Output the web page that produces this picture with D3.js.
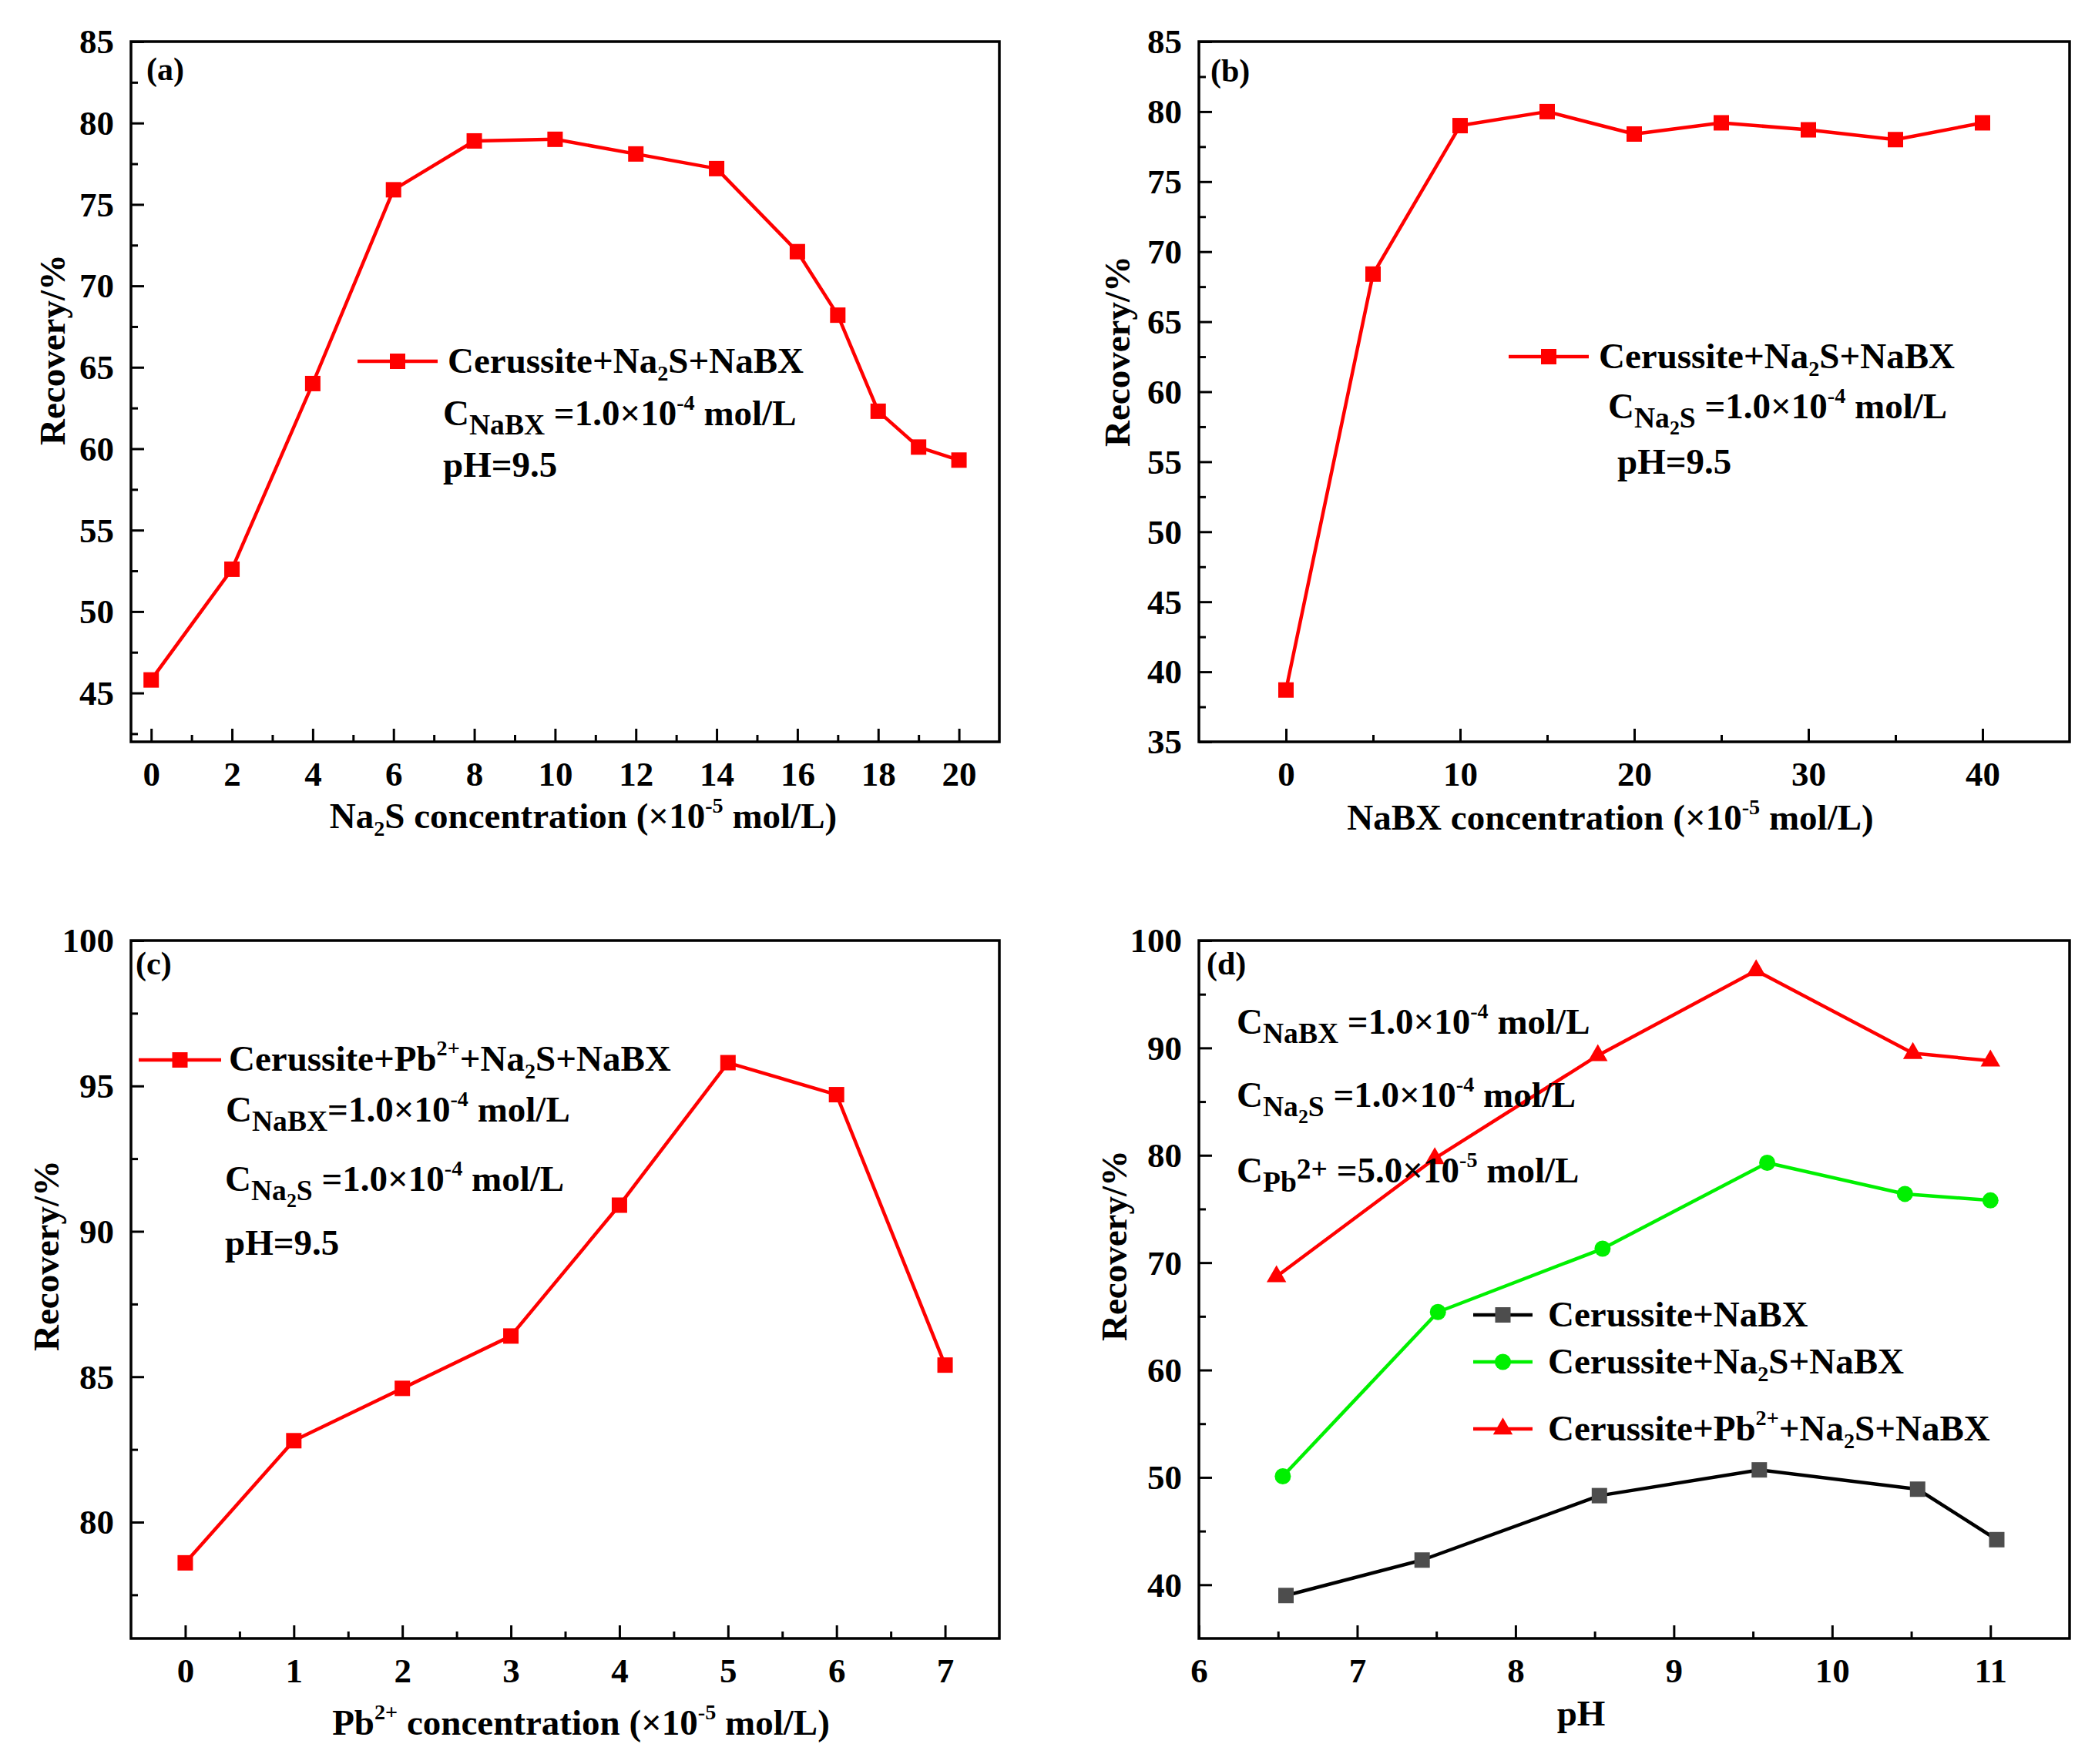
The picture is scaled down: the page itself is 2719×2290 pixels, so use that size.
<!DOCTYPE html>
<html>
<head>
<meta charset="utf-8">
<script src="https://cdn.jsdelivr.net/npm/d3@7"></script>
<style>
  body { margin: 0; background: #fff; }
  text { font-family: "Liberation Serif", "Times New Roman", serif; font-weight: bold; fill: #000; white-space: pre; }
</style>
</head>
<body>
<div id="fig"></div>
<script>
// ---------- data ----------
// (a) Na2S dosage
const a_x = [0, 2, 4, 6, 8, 10, 12, 14, 16, 17, 18, 19, 20];
const a_y = [45.8, 52.6, 64.0, 75.9, 78.9, 79.0, 78.1, 77.2, 72.1, 68.2, 62.3, 60.1, 59.3];
// (b) NaBX dosage
const b_x = [0, 5, 10, 15, 20, 25, 30, 35, 40];
const b_y = [38.7, 68.4, 79.0, 80.0, 78.4, 79.2, 78.7, 78.0, 79.2];
// (c) Pb2+ dosage
const c_x = [0, 1, 2, 3, 4, 5, 6, 7];
const c_y = [78.6, 82.8, 84.6, 86.4, 90.9, 95.8, 94.7, 85.4];
// (d) pH, three systems
const d_x_bx = [6.55, 7.41, 8.53, 9.54, 10.54, 11.04];
const d_y_bx = [39.0, 42.3, 48.3, 50.7, 48.9, 44.2];
const d_x_s = [6.53, 7.51, 8.55, 9.59, 10.46, 11.0];
const d_y_s = [50.1, 65.4, 71.3, 79.3, 76.4, 75.8];
const d_x_pb = [6.49, 7.49, 8.52, 9.52, 10.51, 11.0];
const d_y_pb = [68.7, 79.7, 89.3, 97.2, 89.5, 88.8];

// tick values
const a_xt = [0, 2, 4, 6, 8, 10, 12, 14, 16, 18, 20];
const a_xm = [1, 3, 5, 7, 9, 11, 13, 15, 17, 19];
const a_yt = [45, 50, 55, 60, 65, 70, 75, 80, 85];
const a_ym = [42.5, 47.5, 52.5, 57.5, 62.5, 67.5, 72.5, 77.5, 82.5];
const b_xt = [0, 10, 20, 30, 40];
const b_xm = [5, 15, 25, 35];
const b_yt = [35, 40, 45, 50, 55, 60, 65, 70, 75, 80, 85];
const b_ym = [37.5, 42.5, 47.5, 52.5, 57.5, 62.5, 67.5, 72.5, 77.5, 82.5];
const c_xt = [0, 1, 2, 3, 4, 5, 6, 7];
const c_xm = [0.5, 1.5, 2.5, 3.5, 4.5, 5.5, 6.5];
const c_yt = [80, 85, 90, 95, 100];
const c_ym = [77.5, 82.5, 87.5, 92.5, 97.5];
const d_xt = [6, 7, 8, 9, 10, 11];
const d_xm = [6.5, 7.5, 8.5, 9.5, 10.5];
const d_yt = [40, 50, 60, 70, 80, 90, 100];
const d_ym = [45, 55, 65, 75, 85, 95];

const RED = "#ff0000", GREEN = "#00f000", GREY = "#4d4d4d";

const svg = d3.select("#fig").append("svg")
  .attr("width", 2719).attr("height", 2290)
  .style("display", "block");

// text with sub/superscripts: parts = [[string, kind]]
function rich(g, x, y, parts, fs, anchor) {
  const t = g.append("text").attr("x", x).attr("y", y).style("font-size", fs + "px");
  if (anchor) t.attr("text-anchor", anchor);
  let cur = 0;
  parts.forEach(p => {
    const k = p[1] || "n";
    let off = 0, sz = fs;
    if (k === "b") { off = 0.26 * fs; sz = 0.8 * fs; }       // big subscript (NaBX)
    if (k === "s") { off = 0.22 * fs; sz = 0.6 * fs; }       // small subscript (2 of Na2S)
    if (k === "bs") { off = 0.44 * fs; sz = 0.55 * fs; }     // subscript inside subscript
    if (k === "p") { off = -0.42 * fs; sz = 0.6 * fs; }      // superscript
    if (k === "q") { off = -0.1 * fs; sz = 0.8 * fs; }       // 2+ after C_Pb
    t.append("tspan").attr("dy", (off - cur).toFixed(1)).style("font-size", sz.toFixed(1) + "px").text(p[0]);
    cur = off;
  });
  return t;
}

function panel(box, xd, yd, xt, xm, yt, ym) {
  const g = svg.append("g");
  const x = d3.scaleLinear().domain(xd).range([box.x0, box.x1]);
  const y = d3.scaleLinear().domain(yd).range([box.y1, box.y0]);
  const fmt = d3.format("~g");

  const xa = g.append("g").attr("transform", `translate(0,${box.y1})`)
    .call(d3.axisBottom(x).tickValues(xt).tickFormat(fmt).tickSizeInner(-17).tickSizeOuter(0).tickPadding(0));
  xa.selectAll("text").attr("y", 57).attr("dy", null).style("font-size", "45px");
  g.append("g").attr("transform", `translate(0,${box.y1})`)
    .call(d3.axisBottom(x).tickValues(xm).tickSizeInner(-9).tickSizeOuter(0).tickFormat(""));

  const ya = g.append("g").attr("transform", `translate(${box.x0},0)`)
    .call(d3.axisLeft(y).tickValues(yt).tickFormat(fmt).tickSizeInner(-17).tickSizeOuter(0).tickPadding(22));
  ya.selectAll("text").attr("dy", "0.33em").style("font-size", "45px");
  g.append("g").attr("transform", `translate(${box.x0},0)`)
    .call(d3.axisLeft(y).tickValues(ym).tickSizeInner(-9).tickSizeOuter(0).tickFormat(""));

  g.selectAll(".domain").remove();
  g.selectAll(".tick line").attr("stroke", "#000").attr("stroke-width", 3);
  g.selectAll(".tick text").attr("fill", "#000").attr("font-family", null);

  g.append("rect")
    .attr("x", box.x0).attr("y", box.y0)
    .attr("width", box.x1 - box.x0).attr("height", box.y1 - box.y0)
    .attr("fill", "none").attr("stroke", "#000").attr("stroke-width", 3.5);
  return { g, x, y };
}

function marker(g, type, color, cx, cy) {
  if (type === "square") {
    g.append("rect").attr("x", cx - 10).attr("y", cy - 10).attr("width", 20).attr("height", 20).attr("fill", color);
  } else if (type === "circle") {
    g.append("circle").attr("cx", cx).attr("cy", cy).attr("r", 10.5).attr("fill", color);
  } else {
    g.append("path").attr("d", d3.symbol(d3.symbolTriangle, 280)())
      .attr("transform", `translate(${cx},${cy})`).attr("fill", color);
  }
}

function series(p, xs, ys, lineColor, markColor, type) {
  const pts = xs.map((v, i) => [v, ys[i]]);
  p.g.append("path").datum(pts)
    .attr("d", d3.line().x(d => p.x(d[0])).y(d => p.y(d[1])))
    .attr("fill", "none").attr("stroke", lineColor).attr("stroke-width", 4.5)
    .attr("stroke-linejoin", "round");
  pts.forEach(d => marker(p.g, type, markColor, p.x(d[0]), p.y(d[1])));
}

function legendItem(g, x0, x1, yy, lineColor, markColor, type) {
  g.append("line").attr("x1", x0).attr("x2", x1).attr("y1", yy).attr("y2", yy)
    .attr("stroke", lineColor).attr("stroke-width", 4.5);
  marker(g, type, markColor, (x0 + x1) / 2, yy);
}

function yTitle(g, cx, cy) {
  g.append("text").attr("transform", `translate(${cx + 15},${cy}) rotate(-90)`)
    .attr("text-anchor", "middle").style("font-size", "47px").text("Recovery/%");
}

const FS = 47;

// ---------- (a) ----------
if (1) {
  const p = panel({ x0: 170, x1: 1297, y0: 54, y1: 963 }, [-0.5, 21], [42, 85], a_xt, a_xm, a_yt, a_ym);
  series(p, a_x, a_y, RED, RED, "square");
  p.g.append("text").attr("x", 190).attr("y", 104).style("font-size", "42px").text("(a)");
  legendItem(p.g, 464, 568, 469, RED, RED, "square");
  rich(p.g, 581, 484, [["Cerussite+Na"], ["2", "s"], ["S+NaBX"]], FS);
  rich(p.g, 575, 552, [["C"], ["NaBX", "b"], [" =1.0×10"], ["-4", "p"], [" mol/L"]], FS);
  rich(p.g, 575, 619, [["pH=9.5"]], FS);
  rich(p.g, 757, 1075, [["Na"], ["2", "s"], ["S concentration (×10"], ["-5", "p"], [" mol/L)"]], FS, "middle");
  yTitle(p.g, 69, 454);
}

// ---------- (b) ----------
if (1) {
  const p = panel({ x0: 1556, x1: 2686, y0: 54, y1: 963 }, [-5, 45], [35, 85], b_xt, b_xm, b_yt, b_ym);
  series(p, b_x, b_y, RED, RED, "square");
  p.g.append("text").attr("x", 1571).attr("y", 106).style("font-size", "42px").text("(b)");
  legendItem(p.g, 1958, 2062, 463, RED, RED, "square");
  rich(p.g, 2075, 478, [["Cerussite+Na"], ["2", "s"], ["S+NaBX"]], FS);
  rich(p.g, 2087, 543, [["C"], ["Na", "b"], ["2", "bs"], ["S", "b"], [" =1.0×10"], ["-4", "p"], [" mol/L"]], FS);
  rich(p.g, 2099, 615, [["pH=9.5"]], FS);
  rich(p.g, 2090, 1077, [["NaBX concentration (×10"], ["-5", "p"], [" mol/L)"]], FS, "middle");
  yTitle(p.g, 1451, 456);
}

// ---------- (c) ----------
if (1) {
  const p = panel({ x0: 170, x1: 1297, y0: 1221, y1: 2127 }, [-0.5, 7.5], [76, 100], c_xt, c_xm, c_yt, c_ym);
  series(p, c_x, c_y, RED, RED, "square");
  p.g.append("text").attr("x", 176).attr("y", 1265).style("font-size", "42px").text("(c)");
  legendItem(p.g, 180, 287, 1376, RED, RED, "square");
  rich(p.g, 297, 1390, [["Cerussite+Pb"], ["2+", "p"], ["+Na"], ["2", "s"], ["S+NaBX"]], FS);
  rich(p.g, 293, 1456, [["C"], ["NaBX", "b"], ["=1.0×10"], ["-4", "p"], [" mol/L"]], FS);
  rich(p.g, 292, 1546, [["C"], ["Na", "b"], ["2", "bs"], ["S", "b"], [" =1.0×10"], ["-4", "p"], [" mol/L"]], FS);
  rich(p.g, 292, 1629, [["pH=9.5"]], FS);
  rich(p.g, 754, 2252, [["Pb"], ["2+", "p"], [" concentration (×10"], ["-5", "p"], [" mol/L)"]], FS, "middle");
  yTitle(p.g, 61, 1630);
}

// ---------- (d) ----------
if (1) {
  const p = panel({ x0: 1556, x1: 2686, y0: 1221, y1: 2127 }, [6, 11.5], [35, 100], d_xt, d_xm, d_yt, d_ym);
  series(p, d_x_pb, d_y_pb, RED, RED, "triangle");
  series(p, d_x_s, d_y_s, GREEN, GREEN, "circle");
  series(p, d_x_bx, d_y_bx, "#000", GREY, "square");
  p.g.append("text").attr("x", 1566).attr("y", 1265).style("font-size", "42px").text("(d)");
  rich(p.g, 1605, 1342, [["C"], ["NaBX", "b"], [" =1.0×10"], ["-4", "p"], [" mol/L"]], FS);
  rich(p.g, 1605, 1437, [["C"], ["Na", "b"], ["2", "bs"], ["S", "b"], [" =1.0×10"], ["-4", "p"], [" mol/L"]], FS);
  rich(p.g, 1605, 1535, [["C"], ["Pb", "b"], ["2+", "q"], [" =5.0×10"], ["-5", "p"], [" mol/L"]], FS);
  legendItem(p.g, 1912, 1989, 1707, "#000", GREY, "square");
  rich(p.g, 2009, 1722, [["Cerussite+NaBX"]], FS);
  legendItem(p.g, 1912, 1989, 1768, GREEN, GREEN, "circle");
  rich(p.g, 2009, 1783, [["Cerussite+Na"], ["2", "s"], ["S+NaBX"]], FS);
  legendItem(p.g, 1912, 1989, 1855, RED, RED, "triangle");
  rich(p.g, 2009, 1870, [["Cerussite+Pb"], ["2+", "p"], ["+Na"], ["2", "s"], ["S+NaBX"]], FS);
  p.g.append("text").attr("x", 2052).attr("y", 2240).attr("text-anchor", "middle").style("font-size", FS + "px").text("pH");
  yTitle(p.g, 1447, 1617);
}
</script>
</body>
</html>
